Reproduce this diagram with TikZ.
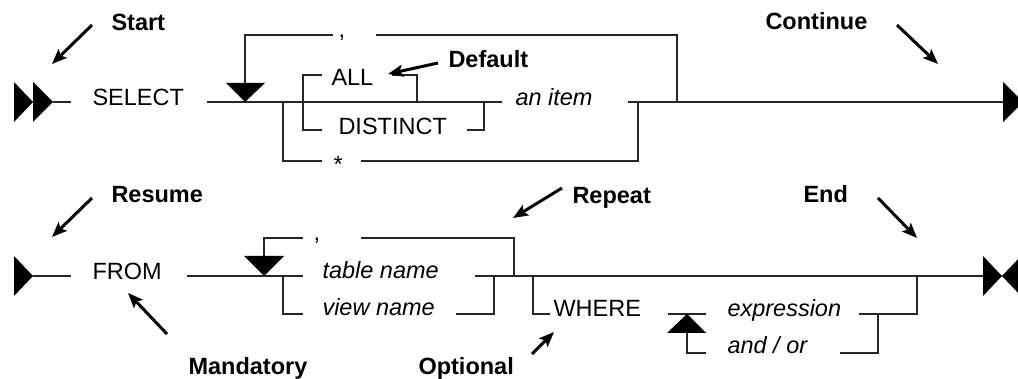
\documentclass[tikz,border=0pt]{standalone}
\usepackage{fontspec}
\setmainfont{Liberation Sans}
\usetikzlibrary{arrows.meta}

\begin{document}
\begin{tikzpicture}[
    x=1pt,
    y=-1pt,
    line width=1pt,
    kw/.style={
        anchor=base west,
        inner sep=0pt,
        font=\fontsize{23.5}{28}\selectfont
    },
    item/.style={
        kw,
        font=\fontsize{23.5}{28}\selectfont\itshape
    },
    tag/.style={
        kw,
        font=\fontsize{23.5}{28}\selectfont\bfseries
    },
    rail/.style={draw=black!85, line width=1.1pt},
    pointer/.style={
        line width=3pt,
        -{Stealth[length=15pt, width=12pt, inset=3pt]}
    }
]
    \useasboundingbox (0,0) rectangle (1018,379);

    % Terminals
    \coordinate (start) at (53,102);
    \coordinate (cont) at (1003,102);
    \coordinate (resume) at (33,276);
    \coordinate (stop) at (983,276);
    \fill (14,82) -- (33,102) -- (14,122) -- cycle;
    \fill (33,82) -- (53,102) -- (33,122) -- cycle;
    \fill (cont) ++(0,-20) -- ++(20,20) -- ++(-20,20) -- cycle;
    \fill (14,256) -- (resume) -- (14,296) -- cycle;
    \fill (stop) ++(0,-20) -- ++(19,20) -- ++(-19,20) -- cycle;
    \fill (stop) ++(38,-20) -- ++(-19,20) -- ++(19,20) -- cycle;

    % Keywords and items
    \node[kw] (select) at (92,106) {SELECT};
    \node[kw] (comma1) at (338,38) {,};
    \node[kw] (all) at (331,86) {ALL};
    \node[kw] (distinct) at (338,135) {DISTINCT};
    \node[kw] (star) at (333,173) {*};
    \node[item] (anitem) at (515,106) {an item};
    \node[kw] (from) at (92,280) {FROM};
    \node[kw] (comma2) at (313,241) {,};
    \node[item] (table) at (322,279) {table name};
    \node[item] (view) at (322,316) {view name};
    \node[kw] (where) at (553,317) {WHERE};
    \node[item] (expr) at (727,317) {expression};
    \node[item] (andor) at (727,354) {and / or};

    % Labels
    \node[tag] (lstart) at (111,31) {Start};
    \node[tag] (ldefault) at (448,68) {Default};
    \node[tag] (lcont) at (765,30) {Continue};
    \node[tag] (lresume) at (111,203) {Resume};
    \node[tag] (lrepeat) at (572,204) {Repeat};
    \node[tag] (lend) at (803,203) {End};
    \node[tag] (lmand) at (188,375) {Mandatory};
    \node[tag] (lopt) at (418,375) {Optional};

    % SELECT rail
    \draw[rail] (start) -- ([xshift=-21pt]select.west |- start);
    \draw[rail] ([xshift=23pt]select.east |- start) -- ([xshift=-13pt]anitem.west |- start);
    \draw[rail] ([xshift=35pt]anitem.east |- start) -- (cont);
    \draw[rail] (677,102) -- (677,35) -- ([xshift=30pt]comma1.east |- 0,35);
    \draw[rail] ([xshift=-5pt]comma1.west |- 0,35) -- (245,35) -- (245,83);
    \fill (226,83) -- (265,83) -- (245,102) -- cycle;
    \draw[rail] ([xshift=-9pt]all.west |- 0,75) -- (303,75) -- (303,130)
        -- ([xshift=-16pt]distinct.west |- 0,130);
    \draw[rail] (392,75) -- (417,75) -- (417,102);
    \draw[rail] ([xshift=20pt]distinct.east |- 0,130) -- (484,130) -- (484,102);
    \draw[rail] (283,102) -- (283,161) -- ([xshift=-11pt]star.west |- 0,161);
    \draw[rail] ([xshift=18pt]star.east |- 0,161) -- (638,161) -- (638,102);

    % FROM rail
    \draw[rail] (resume) -- ([xshift=-21pt]from.west |- resume);
    \draw[rail] ([xshift=25pt]from.east |- resume) -- ([xshift=-19pt]table.west |- resume);
    \draw[rail] ([xshift=36pt]table.east |- resume) -- (stop);
    \draw[rail] (264,256) -- (264,238) -- ([xshift=-10pt]comma2.west |- 0,238);
    \draw[rail] ([xshift=40pt]comma2.east |- 0,238) -- (514,238) -- (514,276);
    \fill (244,256) -- (284,256) -- (264,276) -- cycle;
    \draw[rail] (283,276) -- (283,314) -- ([xshift=-19pt]view.west |- 0,314);
    \draw[rail] ([xshift=21pt]view.east |- 0,314) -- (494,314) -- (494,276);
    \draw[rail] (533,276) -- (533,314) -- ([xshift=-3pt]where.west |- 0,314);
    \draw[rail] ([xshift=27pt]where.east |- 0,314) -- ([xshift=-21pt]expr.west |- 0,314);
    \fill (667,333) -- (706,333) -- (687,314) -- cycle;
    \draw[rail] (687,333) -- (687,353) -- ([xshift=-21pt]andor.west |- 0,353);
    \draw[rail] ([xshift=32pt]andor.east |- 0,353) -- (878,353) -- (878,314);
    \draw[rail] ([xshift=17pt]expr.east |- 0,314) -- (917,314) -- (917,276);

    % Pointers
    \draw[pointer] (92,25) -- (52,64);
    \draw[pointer] (438,63) -- (388,74);
    \draw[pointer] (897,25) -- (938,64);
    \draw[pointer] (92,198) -- (52,237);
    \draw[pointer] (562,188) -- (513,218);
    \draw[pointer] (878,198) -- (917,238);
    \draw[pointer] (167,334) -- (128,293);
    \draw[pointer] (532,354) -- (554,332);
\end{tikzpicture}
\end{document}
